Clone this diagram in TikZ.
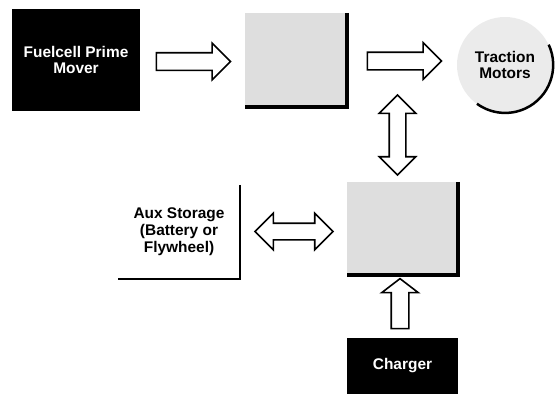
\documentclass[tikz,border=0pt]{standalone}
\usepackage{fontspec}
\setmainfont{Liberation Sans}
\usetikzlibrary{shapes.arrows}

\begin{document}
\begin{tikzpicture}[x=1bp, y=-1bp,
    font=\fontsize{15.5}{17}\selectfont\bfseries,
    darkbox/.style={rectangle, fill=black, text=white, align=center, inner sep=0pt},
    greybox/.style={rectangle, fill=black!13, inner sep=0pt},
    shadeline/.style={line width=3.5bp},
    fatarrow/.style={single arrow, draw, line width=1.6bp, fill=white, inner sep=8bp,
        single arrow head extend=9.5bp, single arrow head indent=0pt},
    twinarrow/.style={double arrow, draw, line width=1.6bp, fill=white, inner sep=7.5bp,
        double arrow head extend=10bp}]
    \useasboundingbox (0,0) rectangle (556,394);

    % Blocks
    \node[darkbox, minimum width=128bp, minimum height=102bp] (fuel) at (76,60) {Fuelcell Prime\\Mover};
    \node[greybox, minimum width=102bp, minimum height=94bp] (conv) at (296,60) {};
    \node[circle, fill=black!8, minimum size=96bp, inner sep=0pt, align=center] (motors) at (505,65) {Traction\\Motors};
    \node[greybox, minimum width=111bp, minimum height=93bp] (dist) at (402.5,228.5) {};
    \node[rectangle, minimum width=122bp, minimum height=94bp, align=center] (aux) at (179,232) {Aux Storage\\(Battery or\\Flywheel)};
    \node[darkbox, minimum width=111bp, minimum height=56bp] (charger) at (402.5,366) {Charger};

    % Shadow edges
    \draw[shadeline] (conv.north east) -- (conv.south east) -- (conv.south west);
    \draw[shadeline] (dist.north east) -- (dist.south east) -- (dist.south west);
    \draw[line width=2.5bp] (motors.25) arc[start angle=-25, end angle=126, radius=48];
    \draw[line width=2bp] (aux.north east) -- (aux.south east) -- (aux.south west);

    % Block arrows
    \node[fatarrow, minimum height=74bp] (fuel2conv) at (189,61.5) {};
    \node[fatarrow, minimum height=74bp] (conv2motors) at (400,61) {};
    \node[twinarrow, minimum height=80bp, shape border rotate=90] (conv2dist) at (397.5,135) {};
    \node[twinarrow, minimum height=78bp] (aux2dist) at (294,231.5) {};
    \node[fatarrow, minimum height=50bp, shape border rotate=90, single arrow tip angle=105] (charger2dist) at (400,307) {};
\end{tikzpicture}
\end{document}
